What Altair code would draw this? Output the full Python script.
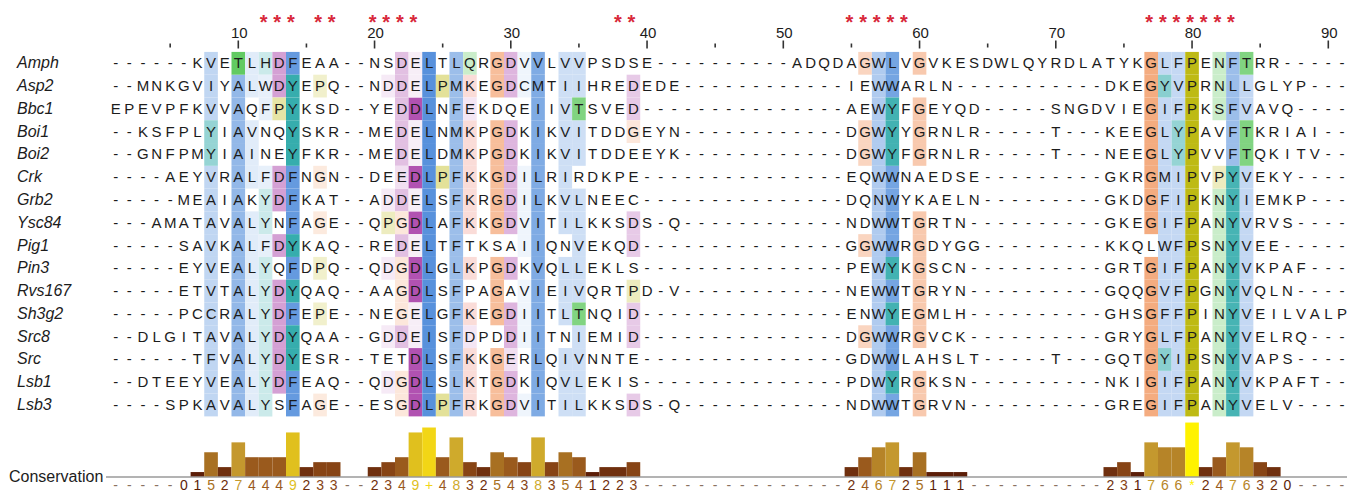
import altair as alt
import pandas as pd

# ---------------- data ----------------
names = ["Amph", "Asp2", "Bbc1", "Boi1", "Boi2", "Crk", "Grb2", "Ysc84",
         "Pig1", "Pin3", "Rvs167", "Sh3g2", "Src8", "Src", "Lsb1", "Lsb3"]

seqs = [
    "------KVETLHDFEAA--NSDELTLQRGDVVLVVPSDSE----------ADQDAGWLVGVKESDWLQYRDLATYKGLFPENFTRR-----",
    "--MNKGVIYALWDYEPQ--NDDELPMKEGDCMTIIHREDEDE------------IEWWARLN-----------DKEGYVPRNLLGLYP---",
    "EPEVPFKVVAQFPYKSD--YEDDLNFEKDQEIIVTSVED---------------AEWYFGEYQD-----SNGDVIEGIFPKSFVAVQ----",
    "--KSFPLYIAVNQYSKR--MEDELNMKPGDKIKVITDDGEYN------------DGWYYGRNLR-----T---KEEGLYPAVFTKRIAI--",
    "--GNFPMYIAINEYFKR--MEDELDMKPGDKIKVITDDEEYK------------DGWYFGRNLR-----T---NEEGLYPVVFTQKITV--",
    "----AEYVRALFDFNGN--DEEDLPFKKGDILRIRDKPE---------------EQWWNAEDSE---------GKRGMIPVPYVEKY----",
    "-----MEAIAKYDFKAT--ADDELSFKRGDILKVLNEEC---------------DQNWYKAELN---------GKDGFIPKNYIEMKP---",
    "---AMATAVALYNFAGE--QPGDLAFKKGDVITILKKSDS-Q------------NDWWTGRTN----------GKEGIFPANYVRVS----",
    "-----SAVKALFDYKAQ--REDELTFTKSAIIQNVEKQD---------------GGWWRGDYGG---------KKQLWFPSNYVEE-----",
    "-----EYVEALYQFDPQ--QDGDLGLKPGDKVQLLEKLS---------------PEWYKGSCN----------GRTGIFPANYVKPAF---",
    "-----ETVTALYDYQAQ--AAGDLSFPAGAVIEIVQRTPD-V------------NEWWTGRYN----------GQQGVFPGNYVQLN----",
    "-----PCCRALYDFEPE--NEGELGFKEGDIITLTNQID---------------ENWYEGMLH----------GHSGFFPINYVEILVALP",
    "--DLGITAVALYDYQAA--GDDEISFDPDDIITNIEMID---------------DGWWRGVCK----------GRYGLFPANYVELRQ---",
    "------TFVALYDYESR--TETDLSFKKGERLQIVNNTE---------------GDWWLAHSLT-----T---GQTGYIPSNYVAPS----",
    "--DTEEYVEALYDFEAQ--QDGDLSLKTGDKIQVLEKIS---------------PDWYRGKSN----------NKIGIFPANYVKPAFT--",
    "----SPKAVALYSFAGE--ESGDLPFRKGDVITILKKSDS-Q------------NDWWTGRVN----------GREGIFPANYVELV----",
]

conservation = ("-----015274449233--2349+483254383541223---------------"
                "246725111----------231766*2476320----")

star_cols = [12, 13, 14, 16, 17, 20, 21, 22, 23, 38, 39,
             55, 56, 57, 58, 59, 77, 78, 79, 80, 81, 82, 83]

ruler_labels = [10, 20, 30, 40, 50, 60, 70, 80, 90]
ruler_ticks = [5, 10, 15, 20, 25, 30, 35, 40, 45, 50, 55, 60, 65, 70, 75, 80, 85, 90]

# column shading: (column, residues, colour family, strength)
shading = [
    (8, "AVILMFC", "blue", 0.32), (8, "Y", "cyan", 0.45),
    (10, "A", "blue", 0.55), (10, "T", "green", 0.75),
    (11, "LVIMF", "blue", 0.15),
    (12, "YH", "cyan", 0.22), (12, "FW", "blue", 0.12),
    (13, "D", "magenta", 0.45), (13, "P", "yellow", 0.35),
    (14, "F", "blue", 0.78), (14, "Y", "cyan", 0.85),
    (16, "P", "yellow", 0.2), (16, "G", "orange", 0.18),
    (21, "P", "yellow", 0.25), (21, "D", "magenta", 0.1),
    (22, "D", "magenta", 0.3), (22, "E", "magenta", 0.15), (22, "G", "orange", 0.2),
    (23, "D", "magenta", 0.82), (23, "E", "magenta", 0.08),
    (24, "LI", "blue", 0.85),
    (25, "P", "yellow", 0.4),
    (26, "MFL", "blue", 0.5),
    (27, "KR", "red", 0.2), (27, "Q", "green", 0.25), (27, "DE", "magenta", 0.12),
    (29, "G", "orange", 0.55),
    (30, "D", "magenta", 0.35), (30, "E", "magenta", 0.15),
    (31, "VIC", "blue", 0.08),
    (32, "VMIL", "blue", 0.65),
    (34, "VIL", "blue", 0.25),
    (35, "VIL", "blue", 0.25), (35, "T", "green", 0.6),
    (39, "D", "magenta", 0.25), (39, "G", "orange", 0.2), (39, "P", "yellow", 0.25),
    (56, "G", "orange", 0.35),
    (57, "WN", "blue", 0.4),
    (58, "WL", "blue", 0.7), (58, "Y", "cyan", 0.8),
    (60, "G", "orange", 0.45),
    (77, "G", "orange", 0.7),
    (78, "LIVMFW", "blue", 0.3), (78, "Y", "cyan", 0.5),
    (79, "LIVMFW", "blue", 0.3), (79, "Y", "cyan", 0.45),
    (80, "P", "yellow", 0.92),
    (82, "NS", "green", 0.25), (82, "P", "yellow", 0.25),
    (83, "FL", "blue", 0.5), (83, "Y", "cyan", 0.78),
    (84, "LIVMF", "blue", 0.3), (84, "T", "green", 0.6),
]

base_colors = {
    "blue": "#3a7ed6", "cyan": "#139f9f", "magenta": "#a02ca0",
    "orange": "#f0884a", "yellow": "#b8b400", "green": "#2db82d", "red": "#e8503c",
}

cons_colors = {0: "#5c1e08", 1: "#5c1e08", 2: "#6f2f0e", 3: "#874415", 4: "#9a5a1d",
               5: "#a87022", 6: "#b68428", 7: "#c4982e", 8: "#cfaa2c",
               9: "#e0c01e", 10: "#f2d616", 11: "#fff200"}

# ---------------- layout ----------------
W, H = 1339, 485
COL0 = 94.05      # plot px of column 0
COLW = 13.625
ROW0 = 55.3       # plot px of first row
ROWH = 22.78
xdom = [-COL0 / COLW, (W - COL0) / COLW]
ydom = [-ROW0 / ROWH, (H - ROW0) / ROWH]


def yu(page_y):
    return (page_y - 8 - ROW0) / ROWH


def xu(page_x):
    return (page_x - 8 - COL0) / COLW


def blend(hexc, a):
    rgb = [int(hexc[i:i + 2], 16) for i in (1, 3, 5)]
    return "#%02x%02x%02x" % tuple(round(255 - (255 - c) * a) for c in rgb)


xs = alt.Scale(domain=xdom, zero=False, nice=False)
ys = alt.Scale(domain=ydom, zero=False, nice=False, reverse=True)
FONT = "Liberation Sans"

# cells
cells = []
for col, res, fam, a in shading:
    for r, s in enumerate(seqs):
        if s[col - 1] in res:
            cells.append({"x1": col - 0.5, "x2": col + 0.5, "y1": r - 0.5, "y2": r + 0.5,
                          "fill": blend(base_colors[fam], a)})
cells_df = pd.DataFrame(cells)

letters = []
for r, s in enumerate(seqs):
    for c, ch in enumerate(s, start=1):
        letters.append({"x": c, "y": r, "t": ch})
letters_df = pd.DataFrame(letters)

labels_df = pd.DataFrame({"y": list(range(len(names))), "t": names})

# conservation
cons_bars, cons_text = [], []
base_y = 477
unit = 4.95
for c, ch in enumerate(conservation, start=1):
    if ch == "-":
        v = None
    elif ch == "+":
        v = 10
    elif ch == "*":
        v = 11
    else:
        v = int(ch)
    col = "#8a7262" if v is None else cons_colors[v]
    cons_text.append({"x": c, "y": yu(486), "t": ch, "c": col})
    if v:
        cons_bars.append({"x1": c - 0.5, "x2": c + 0.5, "y1": yu(base_y),
                          "y2": yu(base_y - unit * v), "fill": col})
bars_df = pd.DataFrame(cons_bars)
ctext_df = pd.DataFrame(cons_text)

# ---------------- layers ----------------
rect_layer = alt.Chart(cells_df).mark_rect(strokeWidth=0).encode(
    x=alt.X("x1:Q", scale=xs, axis=None), x2="x2:Q",
    y=alt.Y("y1:Q", scale=ys, axis=None), y2="y2:Q",
    color=alt.Color("fill:N", scale=None),
)

letter_layer = alt.Chart(letters_df).mark_text(
    font=FONT, fontSize=15, color="#1c1c1c", baseline="middle", align="center"
).encode(
    x=alt.X("x:Q", scale=xs, axis=None), y=alt.Y("y:Q", scale=ys, axis=None), text="t:N"
)

label_layer = alt.Chart(labels_df).mark_text(
    font=FONT, fontSize=16, fontStyle="italic", color="#1c1c1c", baseline="middle", align="left"
).encode(
    x=alt.value(9), y=alt.Y("y:Q", scale=ys, axis=None), text="t:N"
)

ruler_num = alt.Chart(pd.DataFrame({"x": ruler_labels, "y": [yu(33)] * len(ruler_labels),
                                    "t": [str(v) for v in ruler_labels]})).mark_text(
    font=FONT, fontSize=15, color="#1c1c1c", baseline="middle", align="center", dx=1
).encode(
    x=alt.X("x:Q", scale=xs, axis=None), y=alt.Y("y:Q", scale=ys, axis=None), text="t:N"
)

ticks_df = pd.DataFrame({
    "x": ruler_ticks,
    "y1": [yu(40.5) if t % 10 == 0 else yu(43.5) for t in ruler_ticks],
    "y2": [yu(48.5) if t % 10 == 0 else yu(47.5) for t in ruler_ticks],
})
tick_layer = alt.Chart(ticks_df).mark_rule(color="#333333", strokeWidth=1.6).encode(
    x=alt.X("x:Q", scale=xs, axis=None),
    y=alt.Y("y1:Q", scale=ys, axis=None), y2="y2:Q"
)

star_layer = alt.Chart(pd.DataFrame({"x": star_cols, "y": [yu(28.5)] * len(star_cols)})).mark_text(
    font=FONT, fontSize=20, fontWeight="bold", color="#d8283a", baseline="alphabetic",
    align="center", dx=-2
).encode(
    x=alt.X("x:Q", scale=xs, axis=None), y=alt.Y("y:Q", scale=ys, axis=None), text=alt.value("*")
)

bar_layer = alt.Chart(bars_df).mark_rect(strokeWidth=0).encode(
    x=alt.X("x1:Q", scale=xs, axis=None), x2="x2:Q",
    y=alt.Y("y1:Q", scale=ys, axis=None), y2="y2:Q",
    color=alt.Color("fill:N", scale=None),
)

baseline_layer = alt.Chart(pd.DataFrame({"x1": [xu(106)], "x2": [xu(1352)], "y": [yu(base_y)]})).mark_rule(
    color="#9a9a9a", strokeWidth=1.3
).encode(
    x=alt.X("x1:Q", scale=xs, axis=None), x2="x2:Q", y=alt.Y("y:Q", scale=ys, axis=None)
)

ctext_layer = alt.Chart(ctext_df).mark_text(
    font=FONT, fontSize=14, baseline="middle", align="center"
).encode(
    x=alt.X("x:Q", scale=xs, axis=None), y=alt.Y("y:Q", scale=ys, axis=None), text="t:N",
    color=alt.Color("c:N", scale=None)
)

cons_label = alt.Chart(pd.DataFrame({"y": [yu(476.5)], "t": ["Conservation"]})).mark_text(
    font=FONT, fontSize=16, color="#1c1c1c", baseline="middle", align="left"
).encode(
    x=alt.value(1), y=alt.Y("y:Q", scale=ys, axis=None), text="t:N"
)

chart = alt.layer(
    rect_layer, letter_layer, label_layer, ruler_num, tick_layer, star_layer,
    bar_layer, baseline_layer, ctext_layer, cons_label
).properties(
    width=W, height=H, padding=0, autosize=alt.AutoSizeParams(type="none"),
    background="white"
).configure_view(stroke=None)

chart.save("out.html", embed_options={"renderer": "svg", "actions": False})
